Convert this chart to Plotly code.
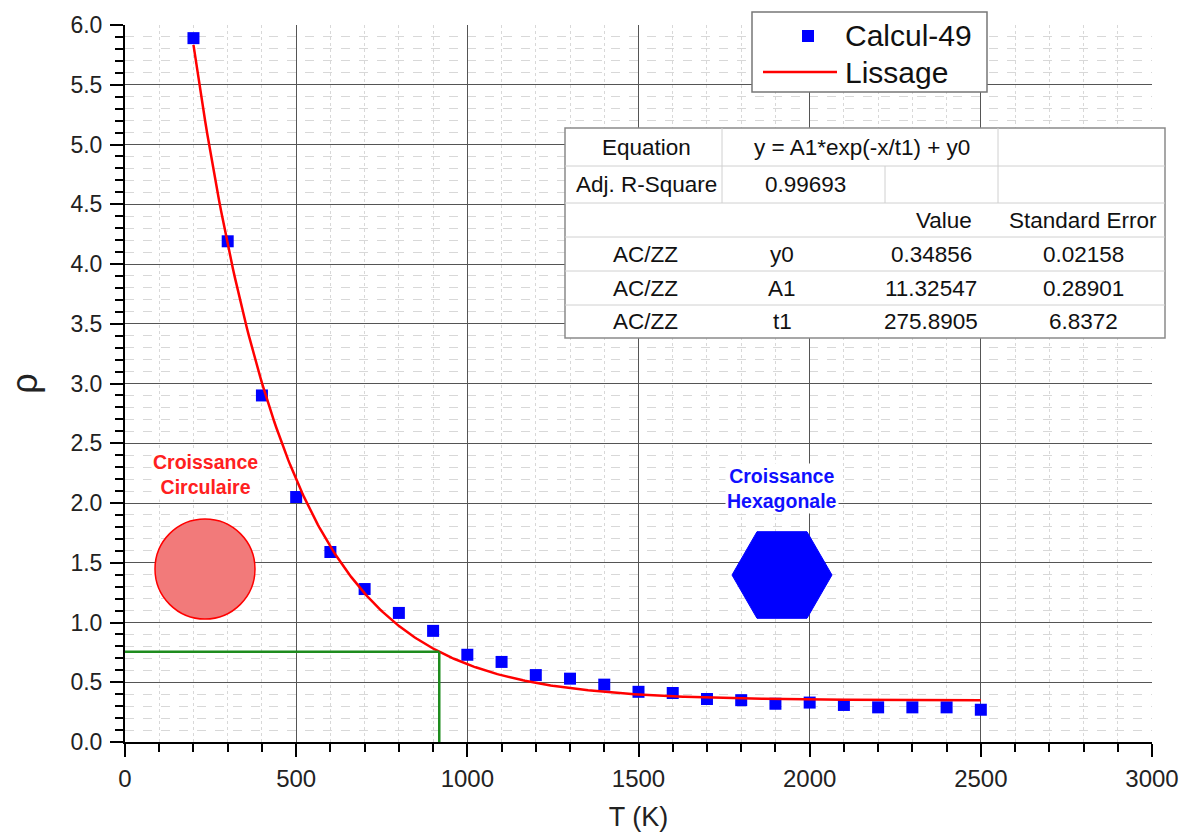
import numpy as np
import plotly.graph_objects as go

# ---- data ----
T_points = [200, 300, 400, 500, 600, 700, 800, 900, 1000, 1100, 1200, 1300,
            1400, 1500, 1600, 1700, 1800, 1900, 2000, 2100, 2200, 2300, 2400, 2500]
rho_points = [5.89, 4.19, 2.90, 2.05, 1.59, 1.28, 1.08, 0.93, 0.73, 0.67, 0.56, 0.53,
              0.48, 0.42, 0.41, 0.36, 0.35, 0.32, 0.33, 0.31, 0.29, 0.29, 0.29, 0.27]

# fit parameters (from the chart's table)
y0_fit = 0.34856
A1_fit = 11.32547
t1_fit = 275.8905
fit_T_range = [200, 2500]

T_cross = 918
rho_cross = 0.755

series_names = ["Calcul-49", "Lissage"]

table_rows = [
    ["Equation", "y = A1*exp(-x/t1) + y0", "", ""],
    ["Adj. R-Square", "0.99693", "", ""],
    ["", "", "Value", "Standard Error"],
    ["AC/ZZ", "y0", "0.34856", "0.02158"],
    ["AC/ZZ", "A1", "11.32547", "0.28901"],
    ["AC/ZZ", "t1", "275.8905", "6.8372"],
]

x_ticks = [0, 500, 1000, 1500, 2000, 2500, 3000]
y_ticks = [0.0, 0.5, 1.0, 1.5, 2.0, 2.5, 3.0, 3.5, 4.0, 4.5, 5.0, 5.5, 6.0]

# ---- layout helpers (pixel -> paper) ----
L, R, T, B = 125, 1152, 25, 742
W, H = 1182, 834
def px(x):
    return (x - L) / (R - L)
def py(y):
    return (B - y) / (B - T)

FONT = "Arial, Liberation Sans, sans-serif"
BLUE = "#0000FF"
RED = "#FF0000"

T_fit = np.linspace(fit_T_range[0], fit_T_range[1], 400)
rho_fit = A1_fit * np.exp(-T_fit / t1_fit) + y0_fit

fig = go.Figure()
fig.add_trace(go.Scatter(x=T_points, y=rho_points, mode="markers", name=series_names[0],
                         marker=dict(symbol="square", size=12, color=BLUE), showlegend=False))
fig.add_trace(go.Scatter(x=T_fit, y=rho_fit, mode="lines", name=series_names[1],
                         line=dict(color=RED, width=2.5), showlegend=False))

shapes = []
# green guide lines
shapes.append(dict(type="line", xref="x", yref="y", x0=0, x1=T_cross, y0=rho_cross, y1=rho_cross,
                   line=dict(color="#1E8C1E", width=2.5)))
shapes.append(dict(type="line", xref="x", yref="y", x0=T_cross, x1=T_cross, y0=0, y1=rho_cross,
                   line=dict(color="#1E8C1E", width=2.5)))

# circle
shapes.append(dict(type="circle", xref="paper", yref="paper",
                   x0=px(155), x1=px(255), y0=py(619), y1=py(519),
                   fillcolor="rgb(242,122,122)", line=dict(color=RED, width=1.5)))

# hexagon
cx, cy, rr = 782, 575, 50
verts = []
for k in range(6):
    a = np.pi / 3 * k
    verts.append((cx + rr * np.cos(a), cy - rr * np.sin(a)))
path = "M " + " L ".join(f"{px(vx):.5f},{py(vy):.5f}" for vx, vy in verts) + " Z"
shapes.append(dict(type="path", xref="paper", yref="paper", path=path,
                   fillcolor=BLUE, line=dict(color=BLUE, width=1)))

# table
tx0, tx1 = 565, 1165
row_edges = [128, 166, 203, 237, 271, 305, 338]
shapes.append(dict(type="rect", xref="paper", yref="paper", x0=px(tx0), x1=px(tx1),
                   y0=py(row_edges[-1]), y1=py(row_edges[0]),
                   fillcolor="white", line=dict(color="#8a8a8a", width=1.5), layer="above"))
for ye in row_edges[1:-1]:
    shapes.append(dict(type="line", xref="paper", yref="paper", x0=px(tx0), x1=px(tx1),
                       y0=py(ye), y1=py(ye), line=dict(color="#d0d0d0", width=1), layer="above"))
for xv, ya, yb in [(722, 128, 203), (998, 128, 203), (885, 166, 203)]:
    shapes.append(dict(type="line", xref="paper", yref="paper", x0=px(xv), x1=px(xv),
                       y0=py(yb), y1=py(ya), line=dict(color="#d0d0d0", width=1), layer="above"))

# legend (manual, to match the original's look)
shapes.append(dict(type="rect", xref="paper", yref="paper", x0=px(752), x1=px(987),
                   y0=py(92), y1=py(12), fillcolor="white",
                   line=dict(color="#777777", width=1.5), layer="above"))
shapes.append(dict(type="rect", xref="paper", yref="paper", x0=px(802), x1=px(814),
                   y0=py(42), y1=py(30), fillcolor=BLUE, line=dict(color=BLUE, width=0),
                   layer="above"))
shapes.append(dict(type="line", xref="paper", yref="paper", x0=px(763), x1=px(837),
                   y0=py(72), y1=py(72), line=dict(color=RED, width=2.5), layer="above"))

annotations = []
annotations.append(dict(x=px(843), y=py(36), xref="paper", yref="paper", text=series_names[0],
                        showarrow=False, xanchor="left", yanchor="middle",
                        font=dict(family=FONT, size=30, color="#111111")))
annotations.append(dict(x=px(843), y=py(72), xref="paper", yref="paper", text=series_names[1],
                        showarrow=False, xanchor="left", yanchor="middle",
                        font=dict(family=FONT, size=30, color="#111111")))

col_centers = [
    [646, 862, None, None],
    [646, 805, None, None],
    [None, None, 944, 1083],
    [645, 782, 931, 1083],
    [645, 782, 931, 1083],
    [645, 782, 931, 1083],
]
for i, row in enumerate(table_rows):
    yc = (row_edges[i] + row_edges[i + 1]) / 2
    for j, txt in enumerate(row):
        if txt and col_centers[i][j] is not None:
            annotations.append(dict(x=px(col_centers[i][j]), y=py(yc), xref="paper", yref="paper",
                                    text=txt, showarrow=False,
                                    font=dict(family=FONT, size=22.5, color="#111111"),
                                    xanchor="center", yanchor="middle"))

annotations.append(dict(x=px(205), y=py(474), xref="paper", yref="paper",
                        text="<b>Croissance<br>Circulaire</b>", showarrow=False,
                        font=dict(family=FONT, size=19.5, color="#FF2020"),
                        xanchor="center", yanchor="middle", bgcolor="white"))
annotations.append(dict(x=px(782), y=py(488), xref="paper", yref="paper",
                        text="<b>Croissance<br>Hexagonale</b>", showarrow=False,
                        font=dict(family=FONT, size=19.5, color="#1010FF"),
                        xanchor="center", yanchor="middle", bgcolor="white"))

fig.update_layout(
    width=W, height=H,
    margin=dict(l=L, r=W - R, t=T, b=H - B, autoexpand=False),
    paper_bgcolor="white", plot_bgcolor="white",
    font=dict(family=FONT, color="#222222"),
    shapes=shapes, annotations=annotations,
    showlegend=False,
    xaxis=dict(range=[0, 3000], tickvals=x_ticks, ticks="outside", ticklen=13, tickwidth=2,
               tickcolor="black", showline=True, linecolor="black", linewidth=2,
               showgrid=True, gridcolor="#555555", gridwidth=1, zeroline=False,
               automargin=False, ticklabelstandoff=1,
               tickfont=dict(family=FONT, size=24, color="#222222"),
               title=dict(text="T (K)", font=dict(family=FONT, size=27, color="#222222"), standoff=16),
               minor=dict(dtick=100, ticks="outside", ticklen=8, tickwidth=2, tickcolor="black",
                          showgrid=True, gridcolor="#d8d8d8", griddash="dot", gridwidth=1)),
    yaxis=dict(range=[0, 6.0], tickvals=y_ticks, tickformat=".1f", ticks="outside", ticklen=13,
               tickwidth=2, tickcolor="black", showline=True, linecolor="black", linewidth=2,
               showgrid=True, gridcolor="#555555", gridwidth=1, zeroline=False,
               automargin=False, ticklabelstandoff=3,
               tickfont=dict(family=FONT, size=23, color="#222222"),
               title=dict(text="ρ", font=dict(family=FONT, size=36, color="#222222"), standoff=22),
               minor=dict(dtick=0.1, ticks="outside", ticklen=8, tickwidth=2, tickcolor="black",
                          showgrid=True, gridcolor="#d8d8d8", griddash="dash", gridwidth=1)),
)

fig.write_html("out.html", post_script="document.body.style.margin='0';",
               config={"displayModeBar": False})
